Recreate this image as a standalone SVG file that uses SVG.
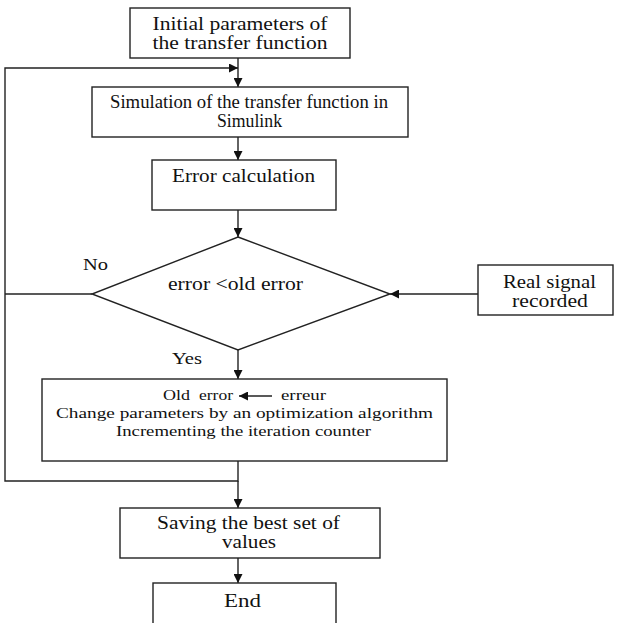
<svg xmlns="http://www.w3.org/2000/svg" width="619" height="623" viewBox="0 0 619 623">
<style>
.box{fill:#fff;stroke:#222;stroke-width:1.4}
.ln{fill:none;stroke:#222;stroke-width:1.4}
.t{font-family:"Liberation Serif","Times New Roman",serif;font-size:18.5px;fill:#111;text-anchor:middle}
.s{font-size:17px}
.m{font-size:15.5px}
</style>
<defs>
<marker id="ah" viewBox="0 0 10 10" refX="10" refY="5" markerWidth="9" markerHeight="9" markerUnits="userSpaceOnUse" orient="auto">
<path d="M0,0 L10,5 L0,10 Z" fill="#111"/>
</marker>
</defs>
<rect width="619" height="623" fill="#fff"/>
<g id="connectors">
<line class="ln" x1="238" y1="58" x2="238" y2="87" marker-end="url(#ah)"/>
<polyline class="ln" points="238,461 238,481 5,481 5,68 238,68" marker-end="url(#ah)"/>
<line class="ln" x1="238" y1="137" x2="238" y2="160" marker-end="url(#ah)"/>
<line class="ln" x1="238" y1="210" x2="238" y2="237" marker-end="url(#ah)"/>
<line class="ln" x1="92" y1="294" x2="5" y2="294"/>
<line class="ln" x1="478" y1="294" x2="390" y2="294" marker-end="url(#ah)"/>
<line class="ln" x1="238" y1="350" x2="238" y2="379" marker-end="url(#ah)"/>
<line class="ln" x1="238" y1="481" x2="238" y2="508" marker-end="url(#ah)"/>
<line class="ln" x1="238" y1="558" x2="238" y2="583" marker-end="url(#ah)"/>
<text class="t s" x="95.5" y="270" textLength="25" lengthAdjust="spacingAndGlyphs">No</text>
<text class="t s" x="187" y="364" textLength="30" lengthAdjust="spacingAndGlyphs">Yes</text>
</g>
<g id="n1">
<rect class="box" x="130" y="8" width="220" height="50"/>
<text class="t" x="240" y="30" textLength="175" lengthAdjust="spacingAndGlyphs">Initial parameters of</text>
<text class="t" x="240" y="49" textLength="175" lengthAdjust="spacingAndGlyphs">the transfer function</text>
</g>
<g id="n2">
<rect class="box" x="92" y="87" width="316" height="50"/>
<text class="t" x="249" y="108" textLength="278" lengthAdjust="spacingAndGlyphs">Simulation of the transfer function in</text>
<text class="t" x="249.5" y="127" textLength="65" lengthAdjust="spacingAndGlyphs">Simulink</text>
</g>
<g id="n3">
<rect class="box" x="152" y="160" width="184" height="50"/>
<text class="t" x="243.5" y="182" textLength="143" lengthAdjust="spacingAndGlyphs">Error calculation</text>
</g>
<g id="n4">
<polygon class="box" points="238,237 390,294 238,350 92,294"/>
<text class="t" x="235.5" y="290" textLength="135" lengthAdjust="spacingAndGlyphs">error &lt;old error</text>
</g>
<g id="n5">
<rect class="box" x="478" y="265" width="135" height="50"/>
<text class="t" x="549.5" y="288" textLength="93" lengthAdjust="spacingAndGlyphs">Real signal</text>
<text class="t" x="550" y="307" textLength="76" lengthAdjust="spacingAndGlyphs">recorded</text>
</g>
<g id="n6">
<rect class="box" x="42" y="379" width="405" height="82"/>
<text class="t m" x="176.5" y="400" textLength="27" lengthAdjust="spacingAndGlyphs">Old</text>
<text class="t m" x="216" y="400" textLength="34" lengthAdjust="spacingAndGlyphs">error</text>
<line class="ln" x1="272" y1="396" x2="239" y2="396" stroke-width="1.2" marker-end="url(#ah)"/>
<text class="t m" x="303.5" y="400" textLength="45" lengthAdjust="spacingAndGlyphs">erreur</text>
<text class="t m" x="244.5" y="418" textLength="377" lengthAdjust="spacingAndGlyphs">Change parameters by an optimization algorithm</text>
<text class="t m" x="243.5" y="436" textLength="255" lengthAdjust="spacingAndGlyphs">Incrementing the iteration counter</text>
</g>
<g id="n7">
<rect class="box" x="120" y="508" width="260" height="50"/>
<text class="t" x="248.5" y="529" textLength="183" lengthAdjust="spacingAndGlyphs">Saving the best set of</text>
<text class="t" x="249" y="548" textLength="54" lengthAdjust="spacingAndGlyphs">values</text>
</g>
<g id="n8">
<rect class="box" x="153" y="583" width="183" height="60"/>
<text class="t" x="242.5" y="607" textLength="37" lengthAdjust="spacingAndGlyphs">End</text>
</g>
</svg>
